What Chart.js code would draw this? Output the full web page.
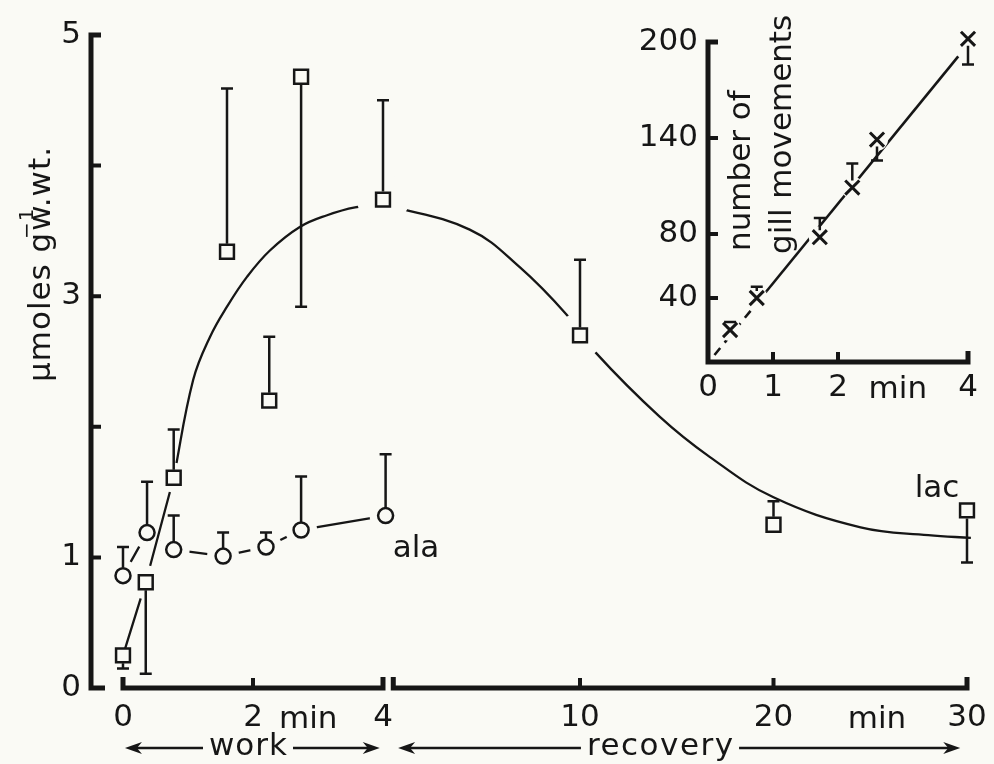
<!DOCTYPE html>
<html>
<head>
<meta charset="utf-8">
<script src="https://cdn.jsdelivr.net/npm/chart.js@4.4.1/dist/chart.umd.min.js"></script>
<style>
  html, body { margin: 0; padding: 0; background: #fafaf5; overflow: hidden; }
  #wrap { position: relative; width: 994px; height: 764px; overflow: hidden; background: #fafaf5; }
  #main { position: absolute; left: 0; top: 0; }
  #inset { position: absolute; left: 600px; top: 0; }
</style>
</head>
<body>
<div id="wrap">
  <canvas id="main" width="1010" height="764"></canvas>
  <canvas id="inset" width="394" height="420"></canvas>
</div>
<script>
const INK = '#161616';
const PAPER = '#fafaf5';
const FAMILY = "'DejaVu Sans', sans-serif";
const FS = 31;

// ---- main panel: lactate (squares) and alanine (circles), µmoles per g wet weight ----
// work phase, minutes of work
const lacWorkTime = [0, 0.35, 0.78, 1.6, 2.25, 2.74, 4.0];
const lacWork     = [0.25, 0.81, 1.61, 3.34, 2.20, 4.68, 3.74];
const lacWorkHigh = [null, null, 1.98, 4.59, 2.69, null, 4.50];
const lacWorkLow  = [0.15, 0.11, null, null, null, 2.92, null];

// recovery phase, minutes of recovery
const lacRecTime = [10, 20, 30];
const lacRec     = [2.70, 1.25, 1.36];
const lacRecHigh = [3.28, 1.43, null];
const lacRecLow  = [null, null, 0.96];

const alaTime = [0, 0.37, 0.78, 1.54, 2.2, 2.74, 4.04];
const ala     = [0.86, 1.19, 1.06, 1.01, 1.08, 1.21, 1.32];
const alaHigh = [1.08, 1.58, 1.32, 1.19, 1.19, 1.62, 1.79];

// lactate trace: straight joins at the start, then the fitted curve
const lacJoinTime      = [0, 0.35, 0.78];
const lacJoin          = [0.25, 0.81, 1.61];
const lacCurveWorkTime = [0.78, 1.08, 1.34, 1.6, 1.91, 2.26, 2.72, 3.14, 3.57, 4.0];
const lacCurveWork     = [1.61, 2.36, 2.69, 2.92, 3.15, 3.35, 3.53, 3.62, 3.68, 3.70];
const lacCurveRecTime  = [0, 4.3, 6.9, 9.3, 10.8, 14.1, 16.7, 20, 24.5, 28, 30.2];
const lacCurveRec      = [3.70, 3.51, 3.22, 2.86, 2.57, 2.08, 1.77, 1.46, 1.23, 1.17, 1.15];

const workTicks = [0, 2, 4];
const recTicks  = [10, 20, 30];
const yTicks    = [0, 1, 2, 3, 4, 5];
const yLabelled = [0, 1, 3, 5];

// ---- inset: number of gill movements during work ----
const gillTime = [0.34, 0.75, 1.72, 2.22, 2.6, 4.0];
const gill     = [20, 40, 78, 109, 139, 202];
const gillHigh = [25, 47, 90, 124, null, null];
const gillLow  = [null, null, null, null, 126, 186];
const gillFitTime = [0.1, 0.9, 3.85];
const gillFit     = [4.4, 44.2, 191];
const insetXTicks = [0, 1, 2, 4];
const insetYTicks = [40, 80, 140, 200];

const pts = (xs, ys) => xs.map((x, i) => ({ x, y: ys[i] }));
const font = (size) => ({ family: FAMILY, size: size || FS });

// vertical error bars with a flat cap, read from dataset.errHigh / dataset.errLow
const errorBars = {
  id: 'errorBars',
  afterDatasetsDraw(chart) {
    const ctx = chart.ctx;
    chart.data.datasets.forEach((ds, di) => {
      if (!ds.errHigh && !ds.errLow) return;
      const meta = chart.getDatasetMeta(di);
      const ys = chart.scales[meta.yAxisID];
      ctx.save();
      ctx.strokeStyle = INK;
      ctx.lineWidth = 2.5;
      meta.data.forEach((el, i) => {
        const x = el.x, y = el.y;
        [[ds.errHigh, -1], [ds.errLow, 1]].forEach(([arr, dir]) => {
          if (!arr || arr[i] == null) return;
          const yb = ys.getPixelForValue(arr[i]);
          ctx.beginPath();
          ctx.moveTo(x, y + dir * ds.errGap);
          ctx.lineTo(x, yb);
          ctx.moveTo(x - ds.capHalf, yb);
          ctx.lineTo(x + ds.capHalf, yb);
          ctx.stroke();
        });
      });
      ctx.restore();
    });
  }
};

function arrowHead(ctx, x, y, dir) {
  ctx.beginPath();
  ctx.moveTo(x, y);
  ctx.lineTo(x - dir * 17, y - 6);
  ctx.lineTo(x - dir * 12, y);
  ctx.lineTo(x - dir * 17, y + 6);
  ctx.closePath();
  ctx.fill();
}

function rotatedText(ctx, parts, x, y, spacing) {
  ctx.save();
  ctx.translate(x, y);
  ctx.rotate(-Math.PI / 2);
  ctx.textAlign = 'left';
  ctx.textBaseline = 'alphabetic';
  ctx.letterSpacing = (spacing || 0) + 'px';
  parts.forEach(p => {
    ctx.font = p.font;
    ctx.fillText(p.text, p.dx, p.dy || 0);
  });
  ctx.restore();
}

// keep tick labels from shrinking the plotting area
const noLabelPadding = s => { s.paddingLeft = 0; s.paddingRight = 0; s.paddingTop = 0; s.paddingBottom = 0; };

// axis lines with inward ticks and end brackets
const mainAxes = {
  id: 'mainAxes',
  beforeDatasetsDraw(chart) {
    const ctx = chart.ctx, xw = chart.scales.xw, xr = chart.scales.xr, y = chart.scales.y;
    const x0 = chart.chartArea.left;
    const yb = y.getPixelForValue(0), yt = y.getPixelForValue(5);
    ctx.save();
    ctx.strokeStyle = INK;
    ctx.lineCap = 'butt';
    ctx.lineJoin = 'miter';
    ctx.lineWidth = 5;
    ctx.beginPath();
    ctx.moveTo(x0 + 10, yt); ctx.lineTo(x0, yt); ctx.lineTo(x0, yb); ctx.lineTo(x0 + 14, yb);
    ctx.stroke();
    ctx.lineWidth = 4;
    ctx.beginPath();
    [1, 2, 3, 4].forEach(v => { const p = y.getPixelForValue(v); ctx.moveTo(x0, p); ctx.lineTo(x0 + 10, p); });
    ctx.stroke();

    ctx.lineWidth = 5;
    const w0 = xw.getPixelForValue(0), w4 = xw.getPixelForValue(4);
    ctx.beginPath();
    ctx.moveTo(w0, yb - 11); ctx.lineTo(w0, yb); ctx.lineTo(w4, yb); ctx.lineTo(w4, yb - 11);
    ctx.stroke();
    const r0 = xr.getPixelForValue(0.35), r30 = xr.getPixelForValue(30);
    ctx.beginPath();
    ctx.moveTo(r0, yb - 11); ctx.lineTo(r0, yb); ctx.lineTo(r30, yb); ctx.lineTo(r30, yb - 11);
    ctx.stroke();
    ctx.lineWidth = 4;
    ctx.beginPath();
    const w2 = xw.getPixelForValue(2);
    ctx.moveTo(w2, yb); ctx.lineTo(w2, yb - 10);
    [10, 20].forEach(v => { const p = xr.getPixelForValue(v); ctx.moveTo(p, yb); ctx.lineTo(p, yb - 10); });
    ctx.stroke();
    ctx.restore();
  }
};

const mainText = {
  id: 'mainText',
  afterDraw(chart) {
    const ctx = chart.ctx, xw = chart.scales.xw, xr = chart.scales.xr, y = chart.scales.y;
    const base = chart.chartArea.bottom;
    ctx.save();
    ctx.fillStyle = INK;
    ctx.strokeStyle = INK;
    ctx.font = `${FS}px ${FAMILY}`;
    ctx.textBaseline = 'alphabetic';

    ctx.textAlign = 'left';
    ctx.fillText('ala', xw.getPixelForValue(4.15), y.getPixelForValue(1.0));
    ctx.fillText('lac', xr.getPixelForValue(27.3), y.getPixelForValue(1.46));

    ctx.textAlign = 'center';
    ctx.fillText('min', xw.getPixelForValue(2.85), base + 40);
    ctx.fillText('min', xr.getPixelForValue(25.35), base + 40);

    // work / recovery arrows
    const ay = base + 60, ty = base + 67;
    ctx.lineWidth = 2.6;
    const arrow = (label, left, right, centre, spacing) => {
      ctx.letterSpacing = spacing + 'px';
      const w = ctx.measureText(label).width - spacing;
      ctx.textAlign = 'left';
      ctx.fillText(label, centre - w / 2, ty);
      ctx.beginPath();
      ctx.moveTo(left + 10, ay); ctx.lineTo(centre - w / 2 - 6, ay);
      ctx.moveTo(centre + w / 2 + 6, ay); ctx.lineTo(right - 10, ay);
      ctx.stroke();
      arrowHead(ctx, left, ay, -1);
      arrowHead(ctx, right, ay, 1);
    };
    arrow('work', xw.getPixelForValue(0.03), xw.getPixelForValue(3.95), 248, 1);
    arrow('recovery', xr.getPixelForValue(0.6), xr.getPixelForValue(29.65), 660, 1.5);
    ctx.letterSpacing = '0px';

    // y axis title
    ctx.font = `${FS}px ${FAMILY}`;
    ctx.letterSpacing = '1px';
    const w1 = ctx.measureText('µmoles g').width;
    const gw = ctx.measureText('g').width;
    rotatedText(ctx, [
      { text: 'µmoles g', font: `${FS}px ${FAMILY}`, dx: 0 },
      { text: '\u2212' + '1', font: `20px ${FAMILY}`, dx: w1 - gw * 0.35, dy: -17 },
      { text: 'w.wt.', font: `${FS}px ${FAMILY}`, dx: w1 + 1 }
    ], 50, 382, 1);
    ctx.restore();
  }
};

const baseScale = {
  type: 'linear',
  grid: { display: false, drawTicks: false },
  border: { display: false },
};

const curveStyle = { showLine: true, tension: 0.4, borderColor: INK, borderWidth: 2.3, pointRadius: 0, order: 8, clip: false };

new Chart(document.getElementById('main'), {
  type: 'scatter',
  data: {
    datasets: [
      { // alanine connecting line
        data: pts(alaTime, ala), xAxisID: 'xw', yAxisID: 'y', showLine: true,
        borderColor: INK, borderWidth: 2.3, pointRadius: 0, order: 10, clip: false },
      { // clearance round alanine points
        data: pts(alaTime, ala), xAxisID: 'xw', yAxisID: 'y', pointRadius: 16,
        pointBackgroundColor: PAPER, pointBorderColor: PAPER, pointBorderWidth: 0, order: 9, clip: false },
      { // lactate joins
        data: pts(lacJoinTime, lacJoin), xAxisID: 'xw', yAxisID: 'y', showLine: true,
        borderColor: INK, borderWidth: 2.3, pointRadius: 0, order: 8, clip: false },
      Object.assign({ // lactate curve, work
        data: pts(lacCurveWorkTime, lacCurveWork), xAxisID: 'xw', yAxisID: 'y' }, curveStyle),
      Object.assign({ // lactate curve, recovery
        data: pts(lacCurveRecTime, lacCurveRec), xAxisID: 'xr', yAxisID: 'y' }, curveStyle),
      { // clearance round lactate points on the curve
        data: pts(lacWorkTime, lacWork), xAxisID: 'xw', yAxisID: 'y', pointRadius: [0, 17, 15, 0, 0, 0, 26],
        pointBackgroundColor: PAPER, pointBorderColor: PAPER, pointBorderWidth: 0, order: 7, clip: false },
      {
        data: pts(lacRecTime, lacRec), xAxisID: 'xr', yAxisID: 'y', pointRadius: [23, 0, 0],
        pointBackgroundColor: PAPER, pointBorderColor: PAPER, pointBorderWidth: 0, order: 7, clip: false },
      { // alanine
        data: pts(alaTime, ala), xAxisID: 'xw', yAxisID: 'y', pointStyle: 'circle', pointRadius: 7.5,
        pointBackgroundColor: PAPER, pointBorderColor: INK, pointBorderWidth: 2.5,
        errHigh: alaHigh, errGap: 8, capHalf: 6, order: 2, clip: false },
      { // lactate, work
        data: pts(lacWorkTime, lacWork), xAxisID: 'xw', yAxisID: 'y', pointStyle: 'rect', pointRadius: 9.8,
        pointBackgroundColor: PAPER, pointBorderColor: INK, pointBorderWidth: 2.5,
        errHigh: lacWorkHigh, errLow: lacWorkLow, errGap: 8, capHalf: 6, order: 1, clip: false },
      { // lactate, recovery
        data: pts(lacRecTime, lacRec), xAxisID: 'xr', yAxisID: 'y', pointStyle: 'rect', pointRadius: 9.8,
        pointBackgroundColor: PAPER, pointBorderColor: INK, pointBorderWidth: 2.5,
        errHigh: lacRecHigh, errLow: lacRecLow, errGap: 8, capHalf: 6, order: 1, clip: false }
    ]
  },
  options: {
    responsive: false,
    animation: false,
    devicePixelRatio: 1,
    events: [],
    layout: { autoPadding: false, padding: { left: 0, top: 35, right: 10, bottom: 16 } },
    plugins: { legend: { display: false }, tooltip: { enabled: false } },
    scales: {
      // work time (0-4 min) and recovery time share the bottom edge side by side
      xw: Object.assign({}, baseScale, {
        position: 'bottom', stack: 'time', stackWeight: 324,
        min: -0.4923, max: 4.4923,
        afterBuildTicks: s => { s.ticks = workTicks.map(v => ({ value: v })); },
        afterFit: s => { s.height = 60; noLabelPadding(s); },
        ticks: { font: font(), color: INK, padding: 11, autoSkip: false, maxRotation: 0, minRotation: 0 }
      }),
      xr: Object.assign({}, baseScale, {
        position: 'bottom', stack: 'time', stackWeight: 585,
        min: 1.4729, max: 31.705,
        afterBuildTicks: s => { s.ticks = recTicks.map(v => ({ value: v })); },
        afterFit: s => { s.height = 60; noLabelPadding(s); },
        ticks: { font: font(), color: INK, padding: 11, autoSkip: false, maxRotation: 0, minRotation: 0 }
      }),
      y: Object.assign({}, baseScale, {
        position: 'left', min: 0, max: 5,
        afterBuildTicks: s => { s.ticks = yTicks.map(v => ({ value: v })); },
        afterFit: s => { s.width = 91; noLabelPadding(s); },
        ticks: { font: font(), color: INK, padding: 10,
                 callback: v => yLabelled.includes(v) ? String(v) : '' }
      })
    }
  },
  plugins: [mainAxes, errorBars, mainText]
});

// ---- inset ----
const insetAxes = {
  id: 'insetAxes',
  beforeDatasetsDraw(chart) {
    const ctx = chart.ctx, x = chart.scales.x, y = chart.scales.y;
    const x0 = x.getPixelForValue(0), x4 = x.getPixelForValue(4);
    const y0 = y.getPixelForValue(0), yt = y.getPixelForValue(200);
    ctx.save();
    ctx.strokeStyle = INK;
    ctx.lineCap = 'butt';
    ctx.lineJoin = 'miter';
    ctx.lineWidth = 5;
    ctx.beginPath();
    ctx.moveTo(x0 + 10, yt); ctx.lineTo(x0, yt); ctx.lineTo(x0, y0); ctx.lineTo(x4, y0); ctx.lineTo(x4, y0 - 11);
    ctx.stroke();
    ctx.lineWidth = 4;
    ctx.beginPath();
    [40, 80, 140].forEach(v => { const p = y.getPixelForValue(v); ctx.moveTo(x0, p); ctx.lineTo(x0 + 10, p); });
    [1, 2].forEach(v => { const p = x.getPixelForValue(v); ctx.moveTo(p, y0); ctx.lineTo(p, y0 - 10); });
    ctx.stroke();
    ctx.restore();
  }
};

const insetText = {
  id: 'insetText',
  afterDraw(chart) {
    const ctx = chart.ctx, x = chart.scales.x;
    const base = chart.chartArea.bottom;
    ctx.save();
    ctx.fillStyle = INK;
    ctx.font = `${FS}px ${FAMILY}`;
    ctx.textAlign = 'center';
    ctx.textBaseline = 'alphabetic';
    ctx.fillText('min', x.getPixelForValue(2.92), base + 36);
    rotatedText(ctx, [{ text: 'number of', font: `${FS}px ${FAMILY}`, dx: 0 }], 150, 251);
    rotatedText(ctx, [{ text: 'gill movements', font: `${FS}px ${FAMILY}`, dx: 0 }], 191, 254);
    ctx.restore();
  }
};

new Chart(document.getElementById('inset'), {
  type: 'scatter',
  data: {
    datasets: [
      { // fitted line, dashed at the start
        data: pts(gillFitTime, gillFit), showLine: true, borderColor: INK, borderWidth: 2.6,
        pointRadius: 0, order: 5, clip: false,
        segment: { borderDash: c => c.p0DataIndex === 0 ? [9, 7] : undefined } },
      { // clearance round the crosses
        data: pts(gillTime, gill), pointRadius: 11, pointBackgroundColor: PAPER,
        pointBorderColor: PAPER, pointBorderWidth: 0, order: 4, clip: false },
      {
        data: pts(gillTime, gill), pointStyle: 'crossRot', pointRadius: 10,
        pointBorderColor: INK, pointBorderWidth: 3,
        errHigh: gillHigh, errLow: gillLow, errGap: 7, capHalf: 6, order: 1, clip: false }
    ]
  },
  options: {
    responsive: false,
    animation: false,
    devicePixelRatio: 1,
    events: [],
    layout: { autoPadding: false, padding: { left: 0, top: 26, right: 13, bottom: 18 } },
    plugins: { legend: { display: false }, tooltip: { enabled: false } },
    scales: {
      x: Object.assign({}, baseScale, {
        position: 'bottom', min: 0, max: 4.2,
        afterBuildTicks: s => { s.ticks = insetXTicks.map(v => ({ value: v })); },
        afterFit: s => { s.height = 40; noLabelPadding(s); },
        ticks: { font: font(), color: INK, padding: 7, autoSkip: false, maxRotation: 0, minRotation: 0 }
      }),
      y: Object.assign({}, baseScale, {
        position: 'left', min: 0, max: 210,
        afterBuildTicks: s => { s.ticks = insetYTicks.map(v => ({ value: v })); },
        afterFit: s => { s.width = 108; noLabelPadding(s); },
        ticks: { font: font(), color: INK, padding: 10 }
      })
    }
  },
  plugins: [insetAxes, errorBars, insetText]
});
</script>
</body>
</html>
